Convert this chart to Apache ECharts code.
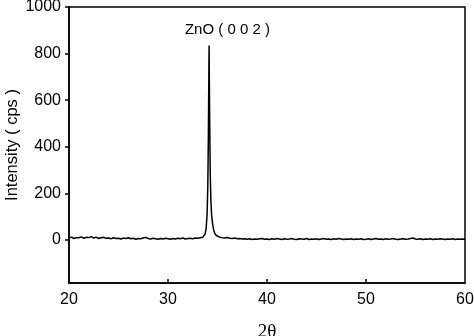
<!DOCTYPE html>
<html>
<head>
<meta charset="utf-8">
<script src="https://cdn.jsdelivr.net/npm/echarts@6/dist/echarts.min.js"></script>
<style>
  html, body { margin: 0; padding: 0; background: #fff; }
  #chart { width: 474px; height: 336px; }
</style>
</head>
<body>
<div id="chart"></div>
<script>
  // 2theta / intensity readings, split into baseline and (002) peak
  const baselineLow = [
    [20.00, 8], [20.25, 12], [20.50, 6], [20.75, 10], [21.00, 9], [21.25, 13], [21.50, 7], [21.75, 11],
    [22.00, 10], [22.25, 14], [22.50, 8], [22.75, 12], [23.00, 6], [23.25, 9], [23.50, 11], [23.75, 7],
    [24.00, 8], [24.25, 5], [24.50, 9], [24.75, 6], [25.00, 7], [25.25, 4], [25.50, 8], [25.75, 6],
    [26.00, 9], [26.25, 5], [26.50, 7], [26.75, 3], [27.00, 6], [27.25, 5], [27.50, 8], [27.75, 11],
    [28.00, 6], [28.25, 4], [28.50, 7], [28.75, 5], [29.00, 3], [29.25, 6], [29.50, 4], [29.75, 7],
    [30.00, 5], [30.25, 3], [30.50, 6], [30.75, 4], [31.00, 7], [31.25, 5], [31.50, 8], [31.75, 4],
    [32.00, 6], [32.25, 7], [32.50, 5], [32.75, 8], [33.00, 7], [33.25, 9]
  ];
  const peak002 = [
    [33.50, 11], [33.65, 16], [33.75, 25], [33.85, 48], [33.95, 110], [34.02, 230], [34.08, 450],
    [34.15, 835], [34.20, 560], [34.26, 300], [34.33, 170], [34.40, 110], [34.50, 70], [34.60, 45],
    [34.70, 30], [34.85, 20], [35.00, 14], [35.25, 11], [35.50, 9]
  ];
  const baselineHigh = [
    [35.75, 8], [36.00, 10], [36.25, 7], [36.50, 6], [36.75, 8], [37.00, 5], [37.25, 6], [37.50, 4],
    [37.75, 5], [38.00, 3], [38.25, 5], [38.50, 2], [38.75, 4], [39.00, 3], [39.25, 5], [39.50, 6],
    [39.75, 3], [40.00, 4], [40.25, 2], [40.50, 5], [40.75, 3], [41.00, 6], [41.25, 4], [41.50, 2],
    [41.75, 5], [42.00, 3], [42.25, 4], [42.50, 6], [42.75, 3], [43.00, 2], [43.25, 5], [43.50, 4],
    [43.75, 3], [44.00, 6], [44.25, 2], [44.50, 4], [44.75, 3], [45.00, 5], [45.25, 2], [45.50, 4],
    [45.75, 6], [46.00, 3], [46.25, 4], [46.50, 2], [46.75, 5], [47.00, 3], [47.25, 6], [47.50, 4],
    [47.75, 2], [48.00, 4], [48.25, 3], [48.50, 5], [48.75, 2], [49.00, 4], [49.25, 3], [49.50, 5],
    [49.75, 2], [50.00, 3], [50.25, 5], [50.50, 2], [50.75, 4], [51.00, 6], [51.25, 3], [51.50, 4],
    [51.75, 2], [52.00, 5], [52.25, 3], [52.50, 4], [52.75, 6], [53.00, 3], [53.25, 2], [53.50, 4],
    [53.75, 5], [54.00, 3], [54.25, 4], [54.50, 6], [54.75, 8], [55.00, 4], [55.25, 3], [55.50, 5],
    [55.75, 2], [56.00, 4], [56.25, 3], [56.50, 5], [56.75, 2], [57.00, 4], [57.25, 3], [57.50, 5],
    [57.75, 4], [58.00, 2], [58.25, 4], [58.50, 3], [58.75, 5], [59.00, 2], [59.25, 4], [59.50, 3],
    [59.75, 4], [60.00, 3]
  ];
  const xLabels = [20, 30, 40, 50, 60];
  const yLabels = [0, 200, 400, 600, 800, 1000];
  const peakName = 'ZnO ( 0 0 2 )';

  const chart = echarts.init(document.getElementById('chart'), null, { renderer: 'canvas' });
  const font = "Arial, 'Liberation Sans', sans-serif";

  chart.setOption({
    animation: false,
    backgroundColor: '#fff',
    grid: {
      left: 69, right: 9, top: 7, bottom: 53,
      containLabel: false,
      outerBoundsMode: 'none',
      show: true,
      borderColor: '#000',
      borderWidth: 1.5,
    },
    xAxis: {
      type: 'value',
      min: 20,
      max: 60,
      interval: 10,
      name: '2θ',
      nameLocation: 'middle',
      nameGap: 40,
      nameMoveOverlap: false,
      nameTextStyle: { color: '#000', fontSize: 19, fontFamily: "'Times New Roman', 'Liberation Serif', serif" },
      axisLine: { show: true, onZero: false, lineStyle: { color: '#000', width: 1.5 } },
      axisTick: { show: true, inside: true, length: 4, lineStyle: { color: '#000', width: 1.5 }, customValues: [30, 40, 50] },
      axisLabel: {
        color: '#000', fontSize: 16, fontFamily: font, margin: 9,
        showMinLabel: true, showMaxLabel: true, customValues: xLabels,
        formatter: (v) => String(v),
      },
      splitLine: { show: false },
    },
    yAxis: {
      type: 'value',
      min: -185,
      max: 1000,
      name: 'Intensity ( cps )',
      nameLocation: 'middle',
      nameGap: 48,
      nameMoveOverlap: false,
      nameTextStyle: { color: '#000', fontSize: 16.5, fontFamily: font },
      axisLine: { show: true, onZero: false, lineStyle: { color: '#000', width: 1.5 } },
      axisTick: { show: true, inside: false, length: 4, lineStyle: { color: '#000', width: 1.5 }, customValues: yLabels },
      axisLabel: {
        color: '#000', fontSize: 16, fontFamily: font, margin: 8,
        showMinLabel: true, showMaxLabel: true, customValues: yLabels,
        formatter: (v) => String(v),
      },
      splitLine: { show: false },
    },
    series: [{
      type: 'line',
      data: [...baselineLow, ...peak002, ...baselineHigh],
      showSymbol: false,
      smooth: false,
      lineStyle: { color: '#000', width: 1.5 },
      markPoint: {
        symbol: 'circle',
        symbolSize: 0,
        silent: true,
        data: [{ coord: [36, 900] }],
        label: {
          show: true,
          position: 'inside',
          formatter: peakName,
          color: '#000',
          fontSize: 15,
          fontFamily: font,
        },
      },
    }],
  });
</script>
</body>
</html>
